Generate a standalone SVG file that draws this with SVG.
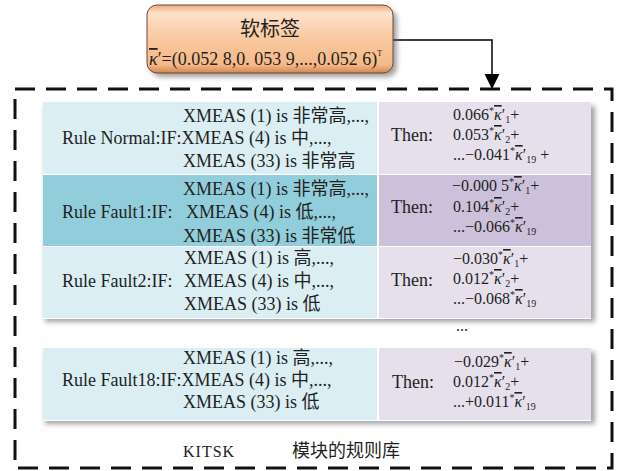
<svg xmlns="http://www.w3.org/2000/svg" width="617" height="471" viewBox="0 0 617 471">
<style>
.t{font-family:"Liberation Serif","Noto Sans CJK SC",serif;font-size:18px;fill:#231f20}
.n{font-family:"Liberation Serif","Noto Sans CJK SC",serif;font-size:16px;fill:#231f20}
.k{font-style:italic;text-decoration:overline}
.sup{font-size:10px}
.sub{font-size:10px}
.lb{fill:#daeef3}
.lt{fill:#92cddc}
.rg{fill:#e5e0ec}
.rp{fill:#ccc1da}
.frame{fill:none;stroke:#111;stroke-width:3;stroke-dasharray:20 11}
.conn{fill:none;stroke:#000;stroke-width:1.5}
</style>
<defs>
<linearGradient id="gOrange" x1="0" y1="0" x2="0" y2="1">
<stop offset="0" stop-color="#eea874"/>
<stop offset="0.12" stop-color="#fde2cb"/>
<stop offset="0.5" stop-color="#f9c8a0"/>
<stop offset="0.88" stop-color="#f5b988"/>
<stop offset="1" stop-color="#d4864e"/>
</linearGradient>
<filter id="sh" x="-5%" y="-10%" width="115%" height="130%">
<feGaussianBlur stdDeviation="2.5"/>
</filter>
</defs>
<rect width="617" height="471" fill="#fff"/>

<g id="frame">
<rect class="frame" x="15" y="89" width="597" height="379"/>
</g>

<g id="connectors">
<polyline class="conn" points="393,40 492,40 492,76"/>
<polygon points="484.5,74 499.5,74 492,89" fill="#000"/>
</g>

<g id="node-softlabel">
<rect x="151" y="9" width="246" height="68" rx="10" fill="#555" opacity="0.55" filter="url(#sh)"/>
<rect x="147" y="5" width="246" height="68" rx="10" fill="url(#gOrange)" stroke="#6b4a36" stroke-width="1"/>
<text class="t" x="270" y="36" text-anchor="middle" style="font-size:20px">软标签</text>
<text class="t" x="149" y="65"><tspan class="k">κ</tspan>′=(0.052 8,0. 053 9,...,0.052 6)<tspan style="font-size:8px" dy="-9">T</tspan></text>
</g>

<g id="shadows">
<rect x="45" y="106" width="550" height="216" fill="#666" opacity="0.6" filter="url(#sh)"/>
<rect x="45" y="352" width="550" height="72" fill="#666" opacity="0.6" filter="url(#sh)"/>
<rect x="43" y="101" width="548" height="218" fill="#fff"/>
<rect x="43" y="347" width="548" height="74" fill="#fff"/>
</g>

<g id="node-rule-normal">
<rect class="lb" x="43" y="102" width="334" height="72"/>
<rect class="rg" x="379" y="102" width="212" height="72"/>
<text class="t" x="183" y="122">XMEAS (1) is 非常高,...,</text>
<text class="t" x="62" y="144">Rule Normal:IF:XMEAS (4) is 中,...,</text>
<text class="t" x="183" y="167">XMEAS (33) is 非常高</text>
<text class="t" x="391" y="141">Then:</text>
<text class="n" x="453" y="120">0.066<tspan class="sup" dy="-6">*</tspan><tspan class="k" dy="6">κ</tspan>′<tspan class="sub" dy="3">1</tspan><tspan dy="-3">+</tspan></text>
<text class="n" x="453" y="140">0.053<tspan class="sup" dy="-6">*</tspan><tspan class="k" dy="6">κ</tspan>′<tspan class="sub" dy="3">2</tspan><tspan dy="-3">+</tspan></text>
<text class="n" x="453" y="160">...−0.041<tspan class="sup" dy="-6">*</tspan><tspan class="k" dy="6">κ</tspan>′<tspan class="sub" dy="3">19</tspan><tspan dy="-3"> +</tspan></text>
</g>

<g id="node-rule-fault1">
<rect class="lt" x="43" y="175" width="334" height="71"/>
<rect class="rp" x="379" y="175" width="212" height="71"/>
<text class="t" x="183" y="195">XMEAS (1) is 非常高,...,</text>
<text class="t" x="62" y="218">Rule Fault1:IF:</text>
<text class="t" x="186" y="218">XMEAS (4) is 低,...,</text>
<text class="t" x="183" y="242">XMEAS (33) is 非常低</text>
<text class="t" x="391" y="213">Then:</text>
<text class="n" x="452" y="191">−0.000 5<tspan class="sup" dy="-6">*</tspan><tspan class="k" dy="6">κ</tspan>′<tspan class="sub" dy="3">1</tspan><tspan dy="-3">+</tspan></text>
<text class="n" x="453" y="212">0.104<tspan class="sup" dy="-6">*</tspan><tspan class="k" dy="6">κ</tspan>′<tspan class="sub" dy="3">2</tspan><tspan dy="-3">+</tspan></text>
<text class="n" x="453" y="232">...−0.066<tspan class="sup" dy="-6">*</tspan><tspan class="k" dy="6">κ</tspan>′<tspan class="sub" dy="3">19</tspan></text>
</g>

<g id="node-rule-fault2">
<rect class="lb" x="43" y="247" width="334" height="71"/>
<rect class="rg" x="379" y="247" width="212" height="71"/>
<text class="t" x="184" y="264">XMEAS (1) is 高,...,</text>
<text class="t" x="62" y="287">Rule Fault2:IF:</text>
<text class="t" x="184" y="287">XMEAS (4) is 中,...,</text>
<text class="t" x="184" y="310">XMEAS (33) is 低</text>
<text class="t" x="391" y="286">Then:</text>
<text class="n" x="453" y="264">−0.030<tspan class="sup" dy="-6">*</tspan><tspan class="k" dy="6">κ</tspan>′<tspan class="sub" dy="3">1</tspan><tspan dy="-3">+</tspan></text>
<text class="n" x="453" y="284">0.012<tspan class="sup" dy="-6">*</tspan><tspan class="k" dy="6">κ</tspan>′<tspan class="sub" dy="3">2</tspan><tspan dy="-3">+</tspan></text>
<text class="n" x="453" y="304">...−0.068<tspan class="sup" dy="-6">*</tspan><tspan class="k" dy="6">κ</tspan>′<tspan class="sub" dy="3">19</tspan></text>
</g>

<g id="ellipsis">
<text class="n" x="456" y="331">...</text>
</g>

<g id="node-rule-fault18">
<rect class="lb" x="43" y="348" width="334" height="72"/>
<rect class="rg" x="379" y="348" width="212" height="72"/>
<text class="t" x="183" y="364">XMEAS (1) is 高,...,</text>
<text class="t" x="62" y="386">Rule Fault18:IF:XMEAS (4) is 中,...,</text>
<text class="t" x="183" y="408">XMEAS (33) is 低</text>
<text class="t" x="392" y="388">Then:</text>
<text class="n" x="454" y="367">−0.029<tspan class="sup" dy="-6">*</tspan><tspan class="k" dy="6">κ</tspan>′<tspan class="sub" dy="3">1</tspan><tspan dy="-3">+</tspan></text>
<text class="n" x="453" y="387">0.012<tspan class="sup" dy="-6">*</tspan><tspan class="k" dy="6">κ</tspan>′<tspan class="sub" dy="3">2</tspan><tspan dy="-3">+</tspan></text>
<text class="n" x="453" y="407">...+0.011<tspan class="sup" dy="-6">*</tspan><tspan class="k" dy="6">κ</tspan>′<tspan class="sub" dy="3">19</tspan></text>
</g>

<g id="label-kitsk">
<text x="183" y="457" style="font-family:'Liberation Serif',serif;font-size:16px;letter-spacing:1px;fill:#231f20">KITSK</text>
<text x="292" y="457" style="font-family:'Noto Sans CJK SC',sans-serif;font-size:18px;fill:#231f20">模块的规则库</text>
</g>
</svg>
